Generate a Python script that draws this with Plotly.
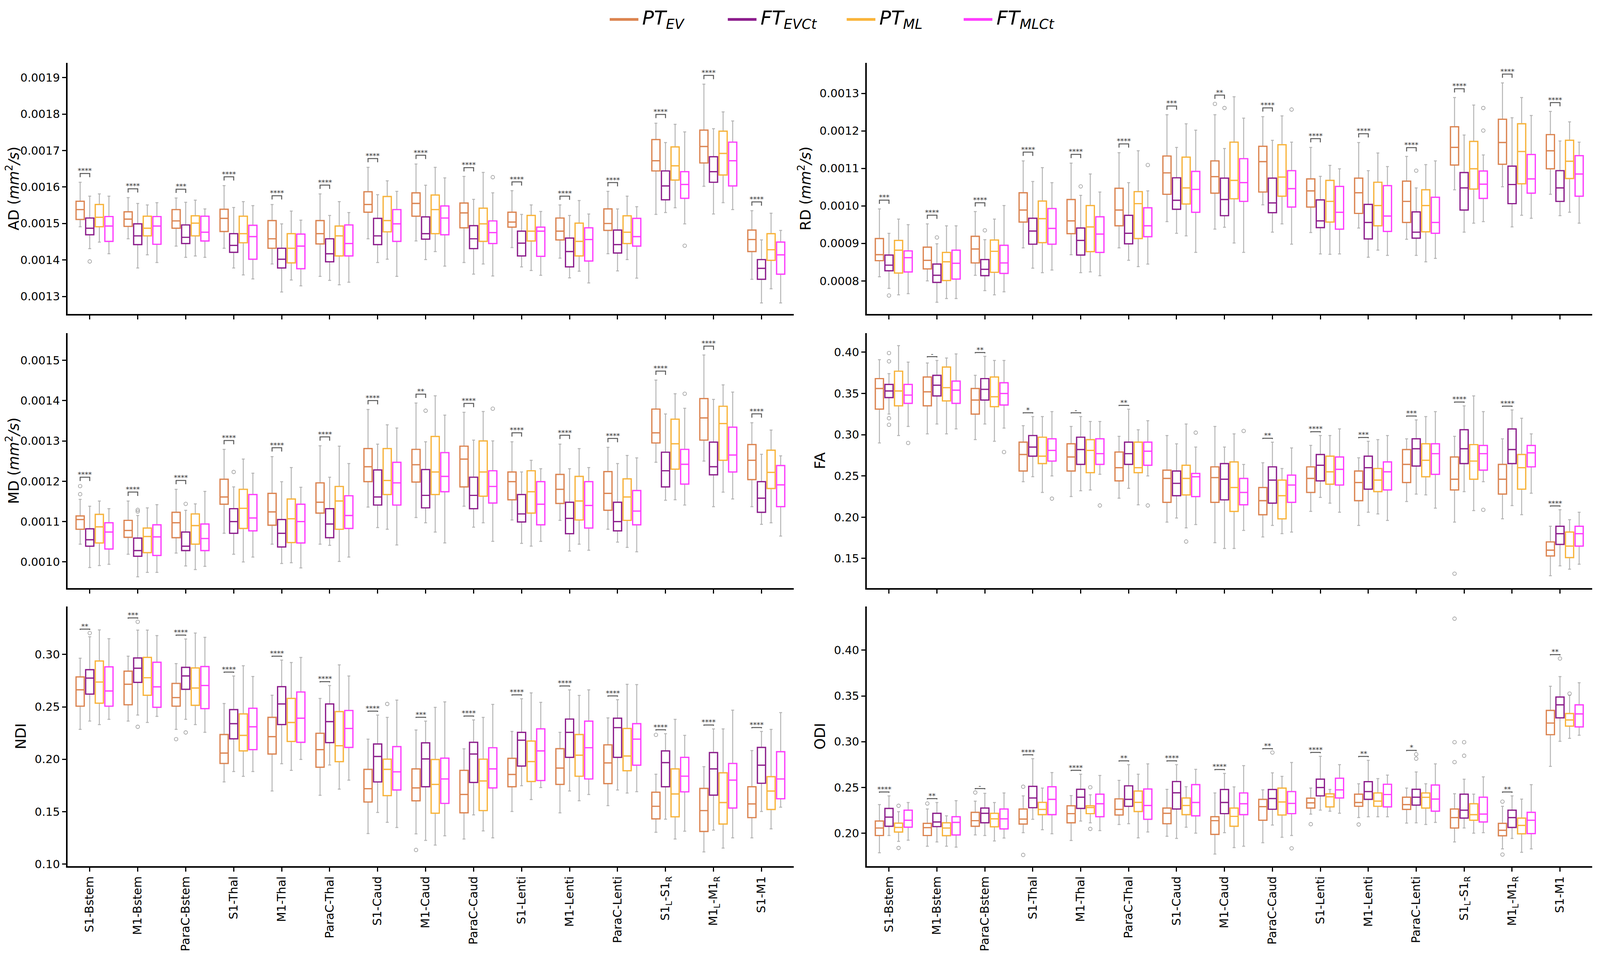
import plotly.graph_objects as go

# regions on the x axis and the four groups
REGIONS = ["S1-Bstem", "M1-Bstem", "ParaC-Bstem", "S1-Thal", "M1-Thal", "ParaC-Thal",
           "S1-Caud", "M1-Caud", "ParaC-Caud", "S1-Lenti", "M1-Lenti", "ParaC-Lenti",
           "S1<sub>L</sub>-S1<sub>R</sub>", "M1<sub>L</sub>-M1<sub>R</sub>", "S1-M1"]
GROUPS = ["<i>PT<sub>EV</sub></i>", "<i>FT<sub>EVCt</sub></i>",
          "<i>PT<sub>ML</sub></i>", "<i>FT<sub>MLCt</sub></i>"]
COLORS = ["#dc8450", "#8c1d8c", "#f9b43a", "#ff3cff"]

# box stats per region: (lower whisker, q1, median, q3, upper whisker)
# AD, RD, MD are in 1e-4 mm^2/s
AD_PT_EV = [(14.91, 15.11, 15.38, 15.61, 16.13), (14.58, 14.92, 15.12, 15.32, 15.71), (14.38, 14.87, 15.07, 15.38, 15.70),
            (14.32, 14.78, 15.14, 15.39, 16.04), (13.89, 14.32, 14.58, 15.08, 15.52), (13.55, 14.44, 14.72, 15.08, 15.81),
            (14.58, 15.31, 15.52, 15.87, 16.54), (14.52, 15.20, 15.55, 15.84, 16.63), (13.93, 14.88, 15.29, 15.56, 16.29),
            (14.34, 14.90, 15.04, 15.31, 15.90), (14.05, 14.55, 14.79, 15.15, 15.51), (14.17, 14.81, 15.00, 15.40, 15.88),
            (15.25, 16.44, 16.72, 17.30, 17.75), (16.02, 16.66, 17.11, 17.56, 18.82), (13.47, 14.23, 14.56, 14.82, 15.35)]
AD_FT_EVCT = [(14.31, 14.69, 14.87, 15.15, 15.75), (13.78, 14.42, 14.66, 14.99, 15.55), (14.07, 14.45, 14.62, 14.96, 15.58),
              (13.78, 14.21, 14.40, 14.72, 15.44), (13.12, 13.78, 14.02, 14.32, 14.99), (13.44, 13.95, 14.17, 14.58, 15.22),
              (13.93, 14.42, 14.66, 15.14, 15.79), (14.01, 14.57, 14.72, 15.18, 16.05), (13.61, 14.31, 14.58, 14.94, 15.66),
              (13.81, 14.11, 14.46, 14.79, 15.25), (13.51, 13.81, 14.23, 14.60, 15.22), (13.70, 14.19, 14.42, 14.82, 15.40),
              (15.30, 15.65, 16.03, 16.44, 17.22), (15.26, 16.13, 16.42, 16.83, 17.60), (12.82, 13.47, 13.77, 14.01, 14.55)]
AD_PT_ML = [(14.49, 14.91, 15.17, 15.52, 15.81), (14.14, 14.66, 14.87, 15.20, 15.51), (14.11, 14.66, 15.01, 15.21, 15.64),
            (13.59, 14.47, 14.72, 15.20, 15.60), (13.45, 13.92, 14.32, 14.72, 15.34), (13.32, 14.11, 14.66, 14.93, 15.60),
            (14.02, 14.77, 15.08, 15.74, 16.17), (14.23, 14.72, 15.38, 15.78, 16.54), (13.89, 14.51, 14.99, 15.42, 16.40),
            (13.71, 14.52, 14.79, 15.22, 15.51), (13.69, 14.11, 14.51, 15.01, 15.63), (14.01, 14.45, 14.76, 15.21, 15.75),
            (15.43, 16.19, 16.58, 17.10, 17.72), (15.57, 16.33, 16.92, 17.53, 18.06), (13.21, 13.99, 14.28, 14.72, 15.28)]
AD_FT_MLCT = [(14.17, 14.51, 14.93, 15.19, 15.75), (13.93, 14.43, 14.93, 15.19, 15.57), (14.07, 14.52, 14.76, 15.20, 15.40),
              (13.48, 14.02, 14.64, 14.95, 15.49), (13.29, 13.76, 14.38, 14.71, 15.09), (13.39, 14.11, 14.45, 14.96, 15.30),
              (13.55, 14.51, 14.99, 15.38, 15.88), (13.83, 14.69, 15.15, 15.48, 16.25), (13.56, 14.45, 14.75, 15.07, 15.84),
              (13.58, 14.10, 14.79, 14.90, 15.33), (13.37, 13.97, 14.56, 14.88, 15.26), (13.50, 14.38, 14.64, 15.14, 15.46),
              (14.99, 15.69, 16.07, 16.42, 17.51), (15.38, 16.03, 16.72, 17.23, 17.81), (12.82, 13.61, 14.14, 14.49, 14.81)]
AD_OUT = [(0, 1, 13.96), (8, 3, 16.27), (12, 3, 14.39)]
AD_STARS = ["****", "****", "***", "****", "****", "****", "****", "****", "****", "****", "****", "****", "****", "****", "****"]

RD_PT_EV = [(8.11, 8.54, 8.70, 9.13, 9.92), (8.00, 8.32, 8.55, 8.90, 9.52), (8.15, 8.48, 8.85, 9.19, 9.85),
            (8.88, 9.57, 9.89, 10.35, 11.20), (8.70, 9.26, 9.60, 10.17, 11.14), (8.88, 9.47, 9.89, 10.47, 11.42),
            (9.58, 10.31, 10.88, 11.33, 12.43), (9.38, 10.34, 10.78, 11.20, 12.43), (10.03, 10.37, 11.18, 11.59, 12.38),
            (9.29, 9.97, 10.40, 10.72, 11.56), (9.41, 9.80, 10.35, 10.74, 11.69), (9.11, 9.56, 10.12, 10.66, 11.32),
            (10.43, 11.09, 11.56, 12.11, 12.89), (10.51, 11.11, 11.69, 12.31, 13.28), (10.31, 10.99, 11.47, 11.90, 12.52)]
RD_FT_EVCT = [(7.80, 8.27, 8.42, 8.69, 9.27), (7.43, 7.96, 8.15, 8.45, 8.99), (7.74, 8.14, 8.31, 8.57, 9.10),
              (8.34, 8.98, 9.33, 9.67, 10.65), (8.22, 8.69, 9.08, 9.41, 10.28), (8.55, 8.99, 9.27, 9.75, 10.62),
              (9.27, 9.91, 10.15, 10.75, 11.56), (9.43, 9.74, 10.17, 10.74, 11.53), (9.30, 9.82, 10.08, 10.74, 11.75),
              (8.72, 9.42, 9.60, 10.16, 10.79), (8.63, 9.12, 9.56, 10.04, 10.94), (8.68, 9.14, 9.30, 9.84, 10.48),
              (9.30, 9.89, 10.48, 10.89, 11.89), (9.44, 10.06, 10.57, 11.06, 12.35), (9.74, 10.12, 10.48, 10.94, 11.73)]
RD_PT_ML = [(7.63, 8.21, 8.82, 9.08, 9.65), (7.53, 8.01, 8.51, 8.76, 9.47), (7.63, 8.23, 8.79, 9.09, 9.65),
            (8.22, 9.02, 9.66, 10.13, 11.02), (8.24, 8.78, 9.44, 10.01, 10.85), (8.38, 9.13, 10.06, 10.38, 11.47),
            (9.20, 10.05, 10.48, 11.30, 12.19), (9.01, 10.19, 10.68, 11.70, 12.91), (9.52, 10.26, 10.77, 11.63, 12.40),
            (8.71, 9.57, 10.12, 10.68, 11.08), (8.82, 9.47, 10.01, 10.63, 11.41), (8.51, 9.31, 10.01, 10.43, 11.10),
            (9.54, 10.45, 10.99, 11.72, 12.69), (9.75, 10.59, 11.45, 12.19, 12.89), (9.83, 10.73, 11.19, 11.75, 12.24)]
RD_FT_MLCT = [(7.66, 8.24, 8.62, 8.80, 9.50), (7.53, 8.05, 8.47, 8.82, 9.47), (7.71, 8.20, 8.48, 8.95, 10.01),
              (8.29, 8.98, 9.40, 9.93, 10.62), (8.14, 8.76, 9.25, 9.71, 10.37), (8.45, 9.18, 9.47, 9.95, 10.40),
              (8.76, 9.83, 10.44, 10.92, 12.02), (8.76, 10.12, 10.62, 11.26, 12.34), (8.98, 9.97, 10.46, 10.94, 11.70),
              (8.72, 9.38, 9.83, 10.52, 10.99), (8.68, 9.32, 9.73, 10.54, 11.05), (8.60, 9.27, 9.56, 10.23, 11.20),
              (9.58, 10.20, 10.58, 10.93, 11.36), (9.67, 10.34, 10.72, 11.37, 12.41), (9.54, 10.26, 10.85, 11.34, 11.70)]
RD_OUT = [(0, 1, 7.61), (1, 1, 9.16), (2, 1, 9.35), (4, 1, 10.52), (5, 3, 11.09), (7, 0, 12.72), (7, 1, 12.61),
          (8, 3, 12.57), (11, 1, 10.94), (12, 3, 12.61), (12, 3, 12.01)]
RD_STARS = ["***", "****", "****", "****", "****", "****", "***", "**", "****", "****", "****", "****", "****", "****", "****"]

MD_PT_EV = [(10.44, 10.81, 11.05, 11.14, 11.55), (10.19, 10.61, 10.78, 11.03, 11.51), (10.22, 10.60, 10.97, 11.23, 11.80),
            (10.71, 11.43, 11.61, 12.05, 12.79), (10.44, 10.91, 11.24, 11.70, 12.61), (10.44, 11.21, 11.48, 11.96, 12.88),
            (11.36, 11.99, 12.36, 12.81, 13.78), (11.10, 11.98, 12.41, 12.79, 13.94), (11.38, 11.86, 12.55, 12.87, 13.71),
            (11.04, 11.54, 11.99, 12.23, 12.98), (11.03, 11.45, 11.80, 12.17, 12.92), (10.81, 11.28, 11.70, 12.24, 12.84),
            (12.47, 12.95, 13.20, 13.79, 14.51), (12.50, 13.02, 13.57, 14.05, 15.13), (11.37, 12.04, 12.52, 12.91, 13.45)]
MD_FT_EVCT = [(9.86, 10.39, 10.55, 10.82, 11.38), (9.63, 10.14, 10.28, 10.59, 11.15), (9.90, 10.28, 10.39, 10.74, 11.28),
              (10.19, 10.71, 11.00, 11.32, 11.86), (9.96, 10.37, 10.71, 11.05, 11.99), (10.41, 10.60, 10.94, 11.32, 12.10),
              (10.85, 11.41, 11.61, 12.28, 12.92), (10.97, 11.34, 11.65, 12.29, 12.98), (10.86, 11.32, 11.65, 12.10, 13.02),
              (10.46, 10.99, 11.19, 11.67, 12.23), (10.27, 10.70, 11.08, 11.48, 12.31), (10.49, 10.77, 11.00, 11.48, 12.44),
              (11.53, 11.86, 12.26, 12.72, 13.67), (11.37, 12.16, 12.36, 12.97, 14.03), (10.93, 11.23, 11.58, 11.99, 12.67)]
MD_PT_ML = [(9.91, 10.47, 10.87, 11.18, 11.51), (9.74, 10.23, 10.63, 10.84, 11.34), (9.81, 10.44, 10.90, 11.19, 11.44),
            (10.00, 10.83, 11.33, 11.80, 12.55), (9.98, 10.48, 11.07, 11.56, 12.34), (10.01, 10.81, 11.51, 11.87, 12.87),
            (10.81, 11.67, 12.02, 12.81, 13.40), (10.74, 11.67, 12.23, 13.11, 14.12), (10.97, 11.63, 12.23, 13.00, 13.73),
            (10.39, 11.21, 11.74, 12.26, 12.52), (10.44, 11.04, 11.51, 12.12, 12.81), (10.36, 11.03, 11.61, 12.06, 12.64),
            (11.54, 12.30, 12.93, 13.54, 14.17), (11.73, 12.52, 13.43, 13.86, 14.39), (10.97, 11.82, 12.22, 12.77, 13.27)]
MD_FT_MLCT = [(9.94, 10.32, 10.74, 10.97, 11.32), (9.74, 10.16, 10.62, 10.92, 11.42), (9.89, 10.28, 10.58, 10.94, 11.75),
              (10.12, 10.77, 11.09, 11.67, 12.20), (9.85, 10.47, 11.00, 11.43, 11.85), (10.12, 10.83, 11.15, 11.64, 12.44),
              (10.42, 11.41, 11.96, 12.47, 13.32), (10.47, 11.74, 12.12, 12.71, 13.64), (10.51, 11.46, 11.87, 12.26, 13.00),
              (10.51, 10.92, 11.43, 11.99, 12.31), (10.29, 10.84, 11.40, 11.99, 12.34), (10.25, 10.92, 11.26, 11.77, 12.58),
              (11.41, 11.93, 12.42, 12.79, 13.81), (11.56, 12.23, 12.65, 13.34, 14.21), (10.64, 11.37, 11.91, 12.39, 12.63)]
MD_OUT = [(0, 0, 11.88), (0, 0, 11.68), (1, 1, 11.29), (1, 1, 11.25), (2, 1, 11.44), (3, 1, 12.23),
          (7, 1, 13.75), (8, 3, 13.80), (12, 3, 14.17)]
MD_STARS = ["****", "****", "****", "****", "****", "****", "****", "**", "****", "****", "****", "****", "****", "****", "****"]

FA_PT_EV = [(0.290, 0.331, 0.356, 0.368, 0.391), (0.301, 0.335, 0.352, 0.370, 0.387), (0.294, 0.325, 0.342, 0.356, 0.372),
            (0.243, 0.256, 0.276, 0.291, 0.311), (0.225, 0.256, 0.273, 0.289, 0.310), (0.223, 0.244, 0.260, 0.279, 0.298),
            (0.194, 0.218, 0.247, 0.257, 0.299), (0.169, 0.218, 0.248, 0.261, 0.310), (0.176, 0.203, 0.220, 0.236, 0.266),
            (0.207, 0.230, 0.247, 0.261, 0.287), (0.190, 0.220, 0.242, 0.256, 0.272), (0.219, 0.242, 0.264, 0.282, 0.295),
            (0.194, 0.233, 0.246, 0.273, 0.298), (0.198, 0.228, 0.246, 0.264, 0.295), (0.129, 0.153, 0.160, 0.170, 0.189)]
FA_FT_EVCT = [(0.325, 0.345, 0.353, 0.361, 0.374), (0.313, 0.347, 0.360, 0.372, 0.390), (0.313, 0.342, 0.355, 0.368, 0.395),
              (0.249, 0.274, 0.285, 0.299, 0.322), (0.232, 0.264, 0.282, 0.297, 0.322), (0.235, 0.264, 0.277, 0.291, 0.331),
              (0.199, 0.226, 0.241, 0.256, 0.289), (0.162, 0.221, 0.246, 0.265, 0.285), (0.190, 0.217, 0.245, 0.261, 0.291),
              (0.224, 0.244, 0.263, 0.276, 0.299), (0.206, 0.234, 0.260, 0.274, 0.292), (0.228, 0.262, 0.283, 0.295, 0.318),
              (0.231, 0.265, 0.283, 0.306, 0.335), (0.214, 0.265, 0.282, 0.307, 0.330), (0.141, 0.167, 0.180, 0.189, 0.209)]
FA_PT_ML = [(0.299, 0.335, 0.353, 0.377, 0.408), (0.301, 0.341, 0.357, 0.382, 0.393), (0.292, 0.334, 0.346, 0.370, 0.390),
            (0.230, 0.265, 0.274, 0.297, 0.322), (0.233, 0.254, 0.281, 0.294, 0.316), (0.215, 0.254, 0.260, 0.291, 0.306),
            (0.187, 0.227, 0.247, 0.263, 0.313), (0.162, 0.207, 0.236, 0.267, 0.301), (0.180, 0.198, 0.226, 0.245, 0.259),
            (0.217, 0.240, 0.255, 0.274, 0.299), (0.204, 0.231, 0.245, 0.259, 0.294), (0.227, 0.249, 0.269, 0.289, 0.322),
            (0.208, 0.246, 0.268, 0.288, 0.347), (0.203, 0.234, 0.260, 0.276, 0.320), (0.137, 0.151, 0.165, 0.182, 0.197)]
FA_FT_MLCT = [(0.310, 0.338, 0.348, 0.361, 0.388), (0.307, 0.338, 0.354, 0.365, 0.398), (0.308, 0.336, 0.350, 0.363, 0.390),
              (0.250, 0.268, 0.281, 0.295, 0.328), (0.252, 0.264, 0.277, 0.295, 0.316), (0.250, 0.263, 0.280, 0.291, 0.317),
              (0.191, 0.225, 0.249, 0.253, 0.285), (0.184, 0.215, 0.230, 0.247, 0.264), (0.182, 0.218, 0.239, 0.251, 0.284),
              (0.206, 0.239, 0.258, 0.273, 0.307), (0.196, 0.233, 0.255, 0.267, 0.299), (0.211, 0.252, 0.277, 0.289, 0.328),
              (0.243, 0.257, 0.277, 0.287, 0.328), (0.229, 0.261, 0.278, 0.287, 0.301), (0.143, 0.165, 0.180, 0.189, 0.206)]
FA_OUT = [(0, 1, 0.399), (0, 1, 0.389), (0, 1, 0.320), (0, 1, 0.312), (0, 3, 0.290), (2, 3, 0.279), (3, 3, 0.2225),
          (4, 3, 0.2142), (5, 3, 0.2142), (6, 2, 0.1705), (6, 3, 0.3025), (7, 3, 0.3046), (12, 0, 0.1315), (12, 3, 0.2089)]
FA_STARS = ["", "-", "**", "*", "-", "**", "", "", "**", "****", "***", "***", "****", "****", "****"]

NDI_PT_EV = [(0.2285, 0.2507, 0.2663, 0.2786, 0.2964), (0.2364, 0.2520, 0.2716, 0.2841, 0.2984), (0.2285, 0.2507, 0.2589, 0.2724, 0.2913),
             (0.1784, 0.1960, 0.2059, 0.2236, 0.2532), (0.1697, 0.2050, 0.2216, 0.2400, 0.2611), (0.1656, 0.1924, 0.2092, 0.2248, 0.2581),
             (0.1291, 0.1592, 0.1719, 0.1904, 0.2192), (0.1288, 0.1604, 0.1727, 0.1908, 0.2280), (0.1239, 0.1489, 0.1664, 0.1894, 0.2100),
             (0.1502, 0.1738, 0.1855, 0.2009, 0.2266), (0.1489, 0.1760, 0.1916, 0.2101, 0.2257), (0.1558, 0.1768, 0.1965, 0.2138, 0.2395),
             (0.1303, 0.1431, 0.1551, 0.1686, 0.1858), (0.1116, 0.1311, 0.1510, 0.1722, 0.1929), (0.1250, 0.1443, 0.1574, 0.1738, 0.2083)]
NDI_FT_EVCT = [(0.2364, 0.2622, 0.2775, 0.2855, 0.3169), (0.2422, 0.2734, 0.2869, 0.2967, 0.3233), (0.2381, 0.2668, 0.2795, 0.2877, 0.3148),
               (0.1883, 0.2195, 0.2340, 0.2474, 0.2795), (0.1957, 0.2331, 0.2528, 0.2693, 0.2947), (0.1945, 0.2159, 0.2359, 0.2528, 0.2704),
               (0.1492, 0.1784, 0.2027, 0.2146, 0.2422), (0.1226, 0.1738, 0.2003, 0.2157, 0.2364), (0.1469, 0.1779, 0.2050, 0.2162, 0.2376),
               (0.1748, 0.1935, 0.2182, 0.2257, 0.2578), (0.1697, 0.2018, 0.2257, 0.2384, 0.2663), (0.1707, 0.2018, 0.2302, 0.2392, 0.2568),
               (0.1428, 0.1738, 0.1968, 0.2080, 0.2244), (0.1324, 0.1658, 0.1908, 0.2064, 0.2290), (0.1502, 0.1771, 0.1944, 0.2113, 0.2266)]
NDI_PT_ML = [(0.2331, 0.2535, 0.2737, 0.2938, 0.3235), (0.2351, 0.2611, 0.2778, 0.2972, 0.3233), (0.2331, 0.2515, 0.2680, 0.2872, 0.3205),
             (0.1837, 0.2080, 0.2228, 0.2433, 0.2893), (0.1894, 0.2170, 0.2351, 0.2581, 0.2923), (0.1715, 0.1977, 0.2129, 0.2455, 0.2901),
             (0.1398, 0.1653, 0.1904, 0.2001, 0.2400), (0.1181, 0.1485, 0.1760, 0.1998, 0.2496), (0.1316, 0.1510, 0.1793, 0.2001, 0.2400),
             (0.1615, 0.1788, 0.1978, 0.2174, 0.2634), (0.1604, 0.1838, 0.2039, 0.2236, 0.2609), (0.1678, 0.1891, 0.2031, 0.2294, 0.2716),
             (0.1239, 0.1451, 0.1669, 0.1908, 0.2381), (0.1152, 0.1382, 0.1587, 0.1871, 0.2290), (0.1336, 0.1521, 0.1697, 0.1834, 0.2285)]
NDI_FT_MLCT = [(0.2381, 0.2507, 0.2652, 0.2882, 0.3151), (0.2409, 0.2496, 0.2691, 0.2926, 0.3181), (0.2257, 0.2483, 0.2704, 0.2885, 0.3164),
               (0.1883, 0.2092, 0.2310, 0.2487, 0.2790), (0.1998, 0.2162, 0.2392, 0.2642, 0.2972), (0.1801, 0.2113, 0.2294, 0.2466, 0.2795),
               (0.1349, 0.1707, 0.1880, 0.2121, 0.2565), (0.1270, 0.1579, 0.1812, 0.2011, 0.2548), (0.1250, 0.1727, 0.1908, 0.2110, 0.2524),
               (0.1730, 0.1797, 0.2080, 0.2290, 0.2543), (0.1664, 0.1812, 0.2110, 0.2364, 0.2663), (0.1691, 0.1944, 0.2192, 0.2340, 0.2713),
               (0.1313, 0.1689, 0.1839, 0.2018, 0.2228), (0.1250, 0.1535, 0.1801, 0.1960, 0.2469), (0.1543, 0.1623, 0.1812, 0.2072, 0.2445)]
NDI_OUT = [(0, 1, 0.3205), (1, 1, 0.3312), (1, 1, 0.2310), (2, 0, 0.2192), (2, 1, 0.2256), (6, 2, 0.2528),
           (7, 0, 0.1135), (12, 0, 0.2233)]
NDI_STARS = ["**", "***", "****", "****", "****", "****", "****", "***", "****", "****", "****", "****", "****", "****", "****"]

ODI_PT_EV = [(0.1786, 0.1975, 0.2057, 0.2133, 0.2313), (0.1858, 0.1975, 0.2061, 0.2108, 0.2265), (0.1981, 0.2076, 0.2137, 0.2228, 0.2351),
             (0.2006, 0.2100, 0.2155, 0.2265, 0.2408), (0.1920, 0.2114, 0.2214, 0.2300, 0.2411), (0.2095, 0.2199, 0.2260, 0.2375, 0.2578),
             (0.1966, 0.2104, 0.2218, 0.2275, 0.2480), (0.1772, 0.1987, 0.2137, 0.2180, 0.2440), (0.1896, 0.2142, 0.2290, 0.2370, 0.2474),
             (0.2209, 0.2275, 0.2332, 0.2383, 0.2493), (0.2171, 0.2294, 0.2336, 0.2427, 0.2540), (0.2110, 0.2260, 0.2313, 0.2394, 0.2493),
             (0.1905, 0.2057, 0.2171, 0.2265, 0.2432), (0.1829, 0.1972, 0.2032, 0.2108, 0.2294), (0.2730, 0.3077, 0.3204, 0.3342, 0.3606)]
ODI_FT_EVCT = [(0.1975, 0.2076, 0.2176, 0.2271, 0.2408), (0.1905, 0.2072, 0.2123, 0.2218, 0.2336), (0.1975, 0.2114, 0.2218, 0.2275, 0.2436),
               (0.2152, 0.2279, 0.2385, 0.2512, 0.2815), (0.2133, 0.2271, 0.2394, 0.2480, 0.2645), (0.2104, 0.2294, 0.2370, 0.2518, 0.2749),
               (0.1943, 0.2265, 0.2442, 0.2565, 0.2749), (0.2006, 0.2214, 0.2336, 0.2478, 0.2654), (0.2089, 0.2262, 0.2379, 0.2478, 0.2660),
               (0.2252, 0.2408, 0.2499, 0.2591, 0.2840), (0.2180, 0.2370, 0.2455, 0.2563, 0.2796), (0.2114, 0.2307, 0.2394, 0.2480, 0.2669),
               (0.2057, 0.2165, 0.2252, 0.2427, 0.2591), (0.1943, 0.2063, 0.2171, 0.2252, 0.2408), (0.3005, 0.3261, 0.3403, 0.3488, 0.3712)]
ODI_PT_ML = [(0.1911, 0.2013, 0.2063, 0.2110, 0.2235), (0.1858, 0.1973, 0.2057, 0.2114, 0.2190), (0.1915, 0.2070, 0.2157, 0.2218, 0.2336),
             (0.2038, 0.2203, 0.2260, 0.2337, 0.2493), (0.2114, 0.2214, 0.2281, 0.2300, 0.2420), (0.1949, 0.2237, 0.2337, 0.2461, 0.2645),
             (0.2066, 0.2203, 0.2303, 0.2385, 0.2508), (0.1843, 0.2076, 0.2184, 0.2275, 0.2506), (0.1956, 0.2199, 0.2341, 0.2493, 0.2622),
             (0.2241, 0.2288, 0.2398, 0.2430, 0.2478), (0.2180, 0.2294, 0.2351, 0.2440, 0.2597), (0.2095, 0.2275, 0.2392, 0.2440, 0.2540),
             (0.2000, 0.2142, 0.2203, 0.2322, 0.2427), (0.1791, 0.1994, 0.2085, 0.2165, 0.2373), (0.3037, 0.3170, 0.3238, 0.3308, 0.3507)]
ODI_FT_MLCT = [(0.1924, 0.2066, 0.2142, 0.2252, 0.2336), (0.1848, 0.1981, 0.2118, 0.2180, 0.2356), (0.1947, 0.2047, 0.2157, 0.2265, 0.2440),
               (0.1994, 0.2203, 0.2370, 0.2508, 0.2663), (0.2028, 0.2180, 0.2322, 0.2427, 0.2631), (0.2013, 0.2152, 0.2303, 0.2483, 0.2758),
               (0.2000, 0.2190, 0.2336, 0.2531, 0.2698), (0.1858, 0.2203, 0.2322, 0.2440, 0.2739), (0.1975, 0.2214, 0.2326, 0.2455, 0.2773),
               (0.2218, 0.2385, 0.2474, 0.2601, 0.2749), (0.2180, 0.2288, 0.2423, 0.2535, 0.2635), (0.2118, 0.2241, 0.2373, 0.2527, 0.2758),
               (0.2006, 0.2123, 0.2209, 0.2394, 0.2616), (0.1829, 0.1996, 0.2142, 0.2228, 0.2531), (0.3071, 0.3162, 0.3304, 0.3403, 0.3645)]
ODI_OUT = [(0, 2, 0.2300), (0, 2, 0.1839), (1, 0, 0.2325), (2, 0, 0.2445), (3, 0, 0.2508), (3, 0, 0.1763), (4, 2, 0.2502),
           (4, 2, 0.2047), (8, 1, 0.2882), (8, 3, 0.1835), (9, 0, 0.2099), (10, 0, 0.2095), (11, 1, 0.2863), (11, 1, 0.2815),
           (12, 0, 0.2995), (12, 0, 0.2777), (12, 0, 0.4345), (12, 1, 0.2995), (12, 1, 0.2847), (13, 0, 0.2345),
           (13, 0, 0.1767), (14, 1, 0.3909), (14, 2, 0.3526)]
ODI_STARS = ["****", "**", "-", "****", "****", "**", "****", "****", "**", "****", "**", "*", "", "**", "**"]

DIFF = "(<i>mm</i><sup>2</sup><i>/s</i>)"
panels = [
    dict(title="AD " + DIFF, boxes=[AD_PT_EV, AD_FT_EVCT, AD_PT_ML, AD_FT_MLCT], stars=AD_STARS, out=AD_OUT,
         scale=1e-4, yrange=[0.001252, 0.00194], yticks=[0.0013, 0.0014, 0.0015, 0.0016, 0.0017, 0.0018, 0.0019],
         fmt=".4f", row=0, col=0, gap=0.02, tick=0.015),
    dict(title="RD " + DIFF, boxes=[RD_PT_EV, RD_FT_EVCT, RD_PT_ML, RD_FT_MLCT], stars=RD_STARS, out=RD_OUT,
         scale=1e-4, yrange=[0.000712, 0.001381], yticks=[0.0008, 0.0009, 0.0010, 0.0011, 0.0012, 0.0013],
         fmt=".4f", row=0, col=1, gap=0.02, tick=0.015),
    dict(title="MD " + DIFF, boxes=[MD_PT_EV, MD_FT_EVCT, MD_PT_ML, MD_FT_MLCT], stars=MD_STARS, out=MD_OUT,
         scale=1e-4, yrange=[0.000935, 0.001567], yticks=[0.0010, 0.0011, 0.0012, 0.0013, 0.0014, 0.0015],
         fmt=".4f", row=1, col=0, gap=0.02, tick=0.015),
    dict(title="FA", boxes=[FA_PT_EV, FA_FT_EVCT, FA_PT_ML, FA_FT_MLCT], stars=FA_STARS, out=FA_OUT,
         scale=1, yrange=[0.114, 0.423], yticks=[0.15, 0.20, 0.25, 0.30, 0.35, 0.40],
         fmt=".2f", row=1, col=1, gap=0.012, tick=0.003),
    dict(title="NDI", boxes=[NDI_PT_EV, NDI_FT_EVCT, NDI_PT_ML, NDI_FT_MLCT], stars=NDI_STARS, out=NDI_OUT,
         scale=1, yrange=[0.098, 0.346], yticks=[0.10, 0.15, 0.20, 0.25, 0.30],
         fmt=".2f", row=2, col=0, gap=0.012, tick=0.003),
    dict(title="ODI", boxes=[ODI_PT_EV, ODI_FT_EVCT, ODI_PT_ML, ODI_FT_MLCT], stars=ODI_STARS, out=ODI_OUT,
         scale=1, yrange=[0.164, 0.448], yticks=[0.20, 0.25, 0.30, 0.35, 0.40],
         fmt=".2f", row=2, col=1, gap=0.012, tick=0.003),
]

OFFSETS = [-0.2, 0.0, 0.2, 0.4]
BOXW = 0.17
XDOM = [[0.0405, 0.4960], [0.5420, 0.9970]]
YDOM = [[0.6766, 0.9377], [0.3913, 0.6565], [0.1020, 0.3724]]
FONT = "DejaVu Sans"
# legend placement (paper fractions): start of each coloured line, line length, vertical centre
LEG_X = [0.3806, 0.4547, 0.5293, 0.6027]
LEG_LEN = 0.018
LEG_Y = 0.983

fig = go.Figure()
annotations = []
shapes = []

for k, p in enumerate(panels, start=1):
    xa = "x" if k == 1 else f"x{k}"
    ya = "y" if k == 1 else f"y{k}"
    sc = p["scale"]
    span = p["yrange"][1] - p["yrange"][0]

    # gray whiskers + caps first, coloured boxes on top
    for g, box in enumerate(p["boxes"]):
        xs = [i + OFFSETS[g] for i in range(len(REGIONS))]
        fig.add_trace(go.Box(
            x=xs, lowerfence=[b[0] * sc for b in box], q1=[b[1] * sc for b in box],
            median=[b[2] * sc for b in box], q3=[b[3] * sc for b in box],
            upperfence=[b[4] * sc for b in box], orientation="v",
            width=BOXW, whiskerwidth=0.35, boxpoints=False,
            line=dict(color="#b5b5b5", width=2.5), fillcolor="rgba(0,0,0,0)",
            showlegend=False, hoverinfo="skip", xaxis=xa, yaxis=ya))
    for g, box in enumerate(p["boxes"]):
        xs = [i + OFFSETS[g] for i in range(len(REGIONS))]
        fig.add_trace(go.Box(
            x=xs, lowerfence=[b[1] * sc for b in box], q1=[b[1] * sc for b in box],
            median=[b[2] * sc for b in box], q3=[b[3] * sc for b in box],
            upperfence=[b[3] * sc for b in box], orientation="v",
            width=BOXW, whiskerwidth=0, boxpoints=False,
            line=dict(color=COLORS[g], width=3.2), fillcolor="rgba(0,0,0,0)",
            showlegend=False, hoverinfo="skip", xaxis=xa, yaxis=ya))

    # outliers
    fig.add_trace(go.Scatter(
        x=[c + OFFSETS[g] for c, g, v in p["out"]], y=[v * sc for c, g, v in p["out"]],
        mode="markers", marker=dict(symbol="circle-open", size=9, color="#9a9a9a", line=dict(width=1.6)),
        showlegend=False, hoverinfo="skip", xaxis=xa, yaxis=ya))

    # significance brackets between PT_EV and FT_EVCt
    bx, by = [], []
    for c, s in enumerate(p["stars"]):
        if not s:
            continue
        tops = [p["boxes"][0][c][4], p["boxes"][1][c][4]]
        tops += [v for cc, g, v in p["out"] if cc == c and g in (0, 1)]
        yb = max(tops) * sc + p["gap"] * span
        yt = yb + p["tick"] * span
        x0, x1 = c + OFFSETS[0], c + OFFSETS[1]
        bx += [x0, x0, x1, x1, None]
        by += [yb, yt, yt, yb, None]
        annotations.append(dict(x=(x0 + x1) / 2, y=yt, xref=xa, yref=ya, text=s, showarrow=False,
                                yanchor="bottom", yshift=-5, font=dict(family=FONT, size=18, color="#333333")))
    fig.add_trace(go.Scatter(x=bx, y=by, mode="lines", line=dict(color="#5a5a5a", width=2.5),
                             showlegend=False, hoverinfo="skip", xaxis=xa, yaxis=ya))

    r, cidx = p["row"], p["col"]
    fig.layout[("xaxis" if k == 1 else f"xaxis{k}")] = dict(
        domain=XDOM[cidx], anchor=ya, range=[-0.46, 14.67],
        tickmode="array", tickvals=list(range(len(REGIONS))), ticktext=REGIONS,
        showticklabels=(r == 2), tickangle=-90, tickfont=dict(family=FONT, size=30, color="black"),
        showline=True, linecolor="black", linewidth=4, ticks="outside", ticklen=10, tickwidth=3,
        tickcolor="black", showgrid=False, zeroline=False)
    fig.layout[("yaxis" if k == 1 else f"yaxis{k}")] = dict(
        domain=YDOM[r], anchor=xa, range=p["yrange"], tickmode="array", tickvals=p["yticks"],
        tickformat=p["fmt"], tickfont=dict(family=FONT, size=29, color="black"),
        title=dict(text=p["title"], font=dict(family=FONT, size=37, color="black"), standoff=12),
        showline=True, linecolor="black", linewidth=4, ticks="outside", ticklen=10, tickwidth=3,
        tickcolor="black", showgrid=False, zeroline=False)

# legend: coloured line + italic label for each group
for g, name in enumerate(GROUPS):
    shapes.append(dict(type="line", xref="paper", yref="paper", x0=LEG_X[g], x1=LEG_X[g] + LEG_LEN,
                       y0=LEG_Y, y1=LEG_Y, line=dict(color=COLORS[g], width=7)))
    annotations.append(dict(x=LEG_X[g] + LEG_LEN + 0.002, y=LEG_Y, xref="paper", yref="paper", text=name,
                            showarrow=False, xanchor="left", yanchor="middle",
                            font=dict(family=FONT, size=50, color="black")))

fig.update_layout(
    autosize=True,
    margin=dict(l=0, r=0, t=0, b=0),
    paper_bgcolor="white", plot_bgcolor="white",
    font=dict(family=FONT, color="black"),
    annotations=annotations, shapes=shapes,
    showlegend=False,
)

fig.write_html("out.html")
